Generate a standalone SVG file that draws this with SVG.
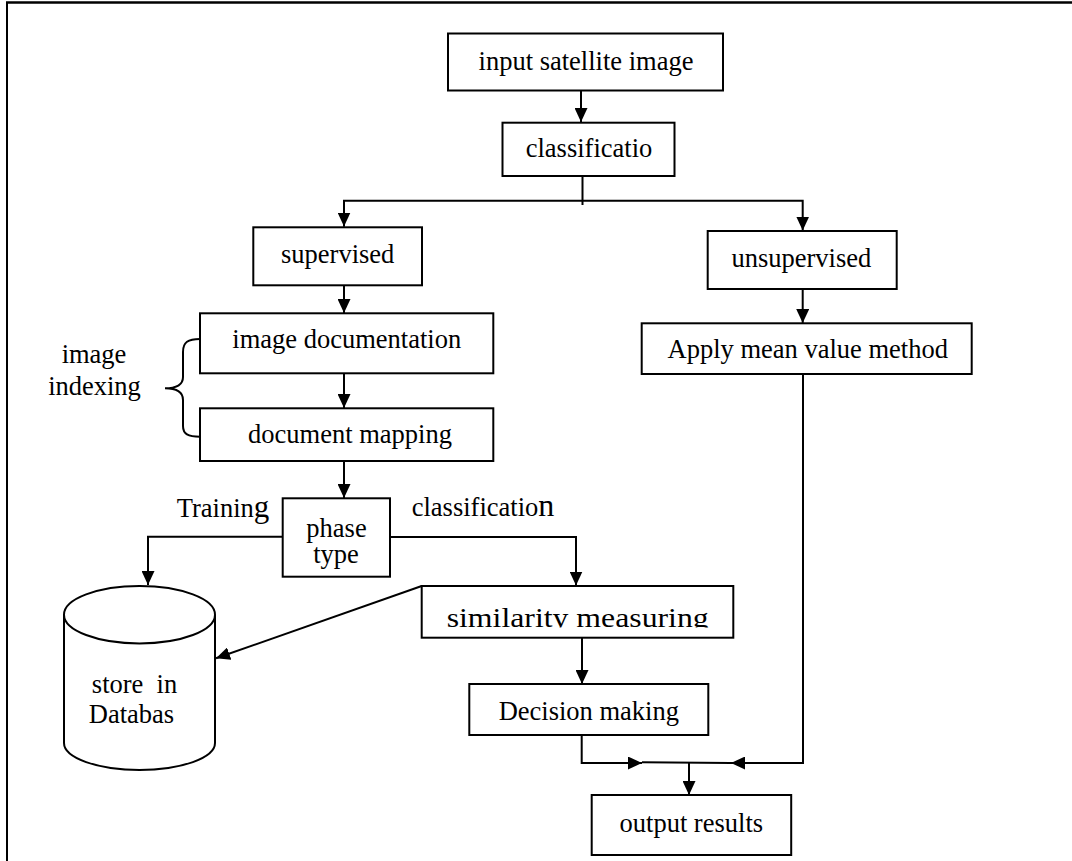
<svg xmlns="http://www.w3.org/2000/svg" width="1072" height="861" viewBox="0 0 1072 861">
<style>
.box{fill:#fff;stroke:#000;stroke-width:2}
.ln{fill:none;stroke:#000;stroke-width:2}
.t{font-family:"Liberation Serif","Times New Roman",serif;font-size:26.5px;fill:#000}
.c{text-anchor:middle}
</style>
<defs>
<marker id="ah" markerUnits="userSpaceOnUse" markerWidth="15" markerHeight="13" refX="14" refY="6.5" orient="auto">
<path d="M0,0 L14,6.5 L0,13 z" fill="#000"/>
</marker>
<clipPath id="simclip"><rect x="422" y="587" width="311" height="40.5"/></clipPath>
</defs>
<rect x="0" y="0" width="1072" height="861" fill="#fff"/>
<g id="frame">
<line x1="6" y1="2.5" x2="1072" y2="2.5" stroke="#000" stroke-width="2.5"/>
<line x1="7" y1="2" x2="7" y2="861" stroke="#000" stroke-width="2"/>
</g>
<g id="connectors">
<line class="ln" x1="581" y1="91" x2="581" y2="122" marker-end="url(#ah)"/>
<line class="ln" x1="582.5" y1="176" x2="582.5" y2="205"/>
<polyline class="ln" points="344,226.5 344,200.7 802.7,200.7 802.7,230.5" marker-end="url(#ah)"/>
<line class="ln" x1="344" y1="200.7" x2="344" y2="226.5" marker-end="url(#ah)"/>
<line class="ln" x1="344" y1="286" x2="344" y2="313" marker-end="url(#ah)"/>
<line class="ln" x1="802.7" y1="289" x2="802.7" y2="323" marker-end="url(#ah)"/>
<line class="ln" x1="344" y1="373.5" x2="344" y2="408" marker-end="url(#ah)"/>
<line class="ln" x1="344" y1="461" x2="344" y2="498" marker-end="url(#ah)"/>
<polyline class="ln" points="282.7,536.7 148,536.7 148,585" marker-end="url(#ah)"/>
<polyline class="ln" points="390,537 576,537 576,585.5" marker-end="url(#ah)"/>
<line class="ln" x1="421.7" y1="586" x2="216" y2="658.3" marker-end="url(#ah)"/>
<line class="ln" x1="582" y1="638" x2="582" y2="684" marker-end="url(#ah)"/>
<polyline class="ln" points="581.7,735 581.7,763 642,763" marker-end="url(#ah)"/>
<line class="ln" x1="642" y1="762.2" x2="731" y2="763"/>
<polyline class="ln" points="803,374 803,763 731,763" marker-end="url(#ah)"/>
<line class="ln" x1="689" y1="763" x2="689" y2="795" marker-end="url(#ah)"/>
</g>
<g id="input">
<rect class="box" x="448" y="33.5" width="275" height="57"/>
<text class="t c" x="586" y="70">input satellite image</text>
</g>
<g id="classificatio">
<rect class="box" x="502.5" y="122.7" width="172" height="53.3"/>
<text class="t c" x="589" y="156.7">classificatio</text>
</g>
<g id="supervised">
<rect class="box" x="253.3" y="227.3" width="168.7" height="58"/>
<text class="t c" x="337.7" y="263">supervised</text>
</g>
<g id="unsupervised">
<rect class="box" x="707.7" y="231" width="189" height="58"/>
<text class="t c" x="801.3" y="267">unsupervised</text>
</g>
<g id="imagedoc">
<rect class="box" x="200" y="313.3" width="293.3" height="60"/>
<text class="t c" x="346.8" y="348">image documentation</text>
</g>
<g id="meanvalue">
<rect class="box" x="641.7" y="323.3" width="330" height="50.7"/>
<text class="t c" x="807.8" y="358">Apply mean value method</text>
</g>
<g id="indexing">
<path class="ln" d="M200,339 C188,339 183,342 183,352 L183,377 C183,385 176,388.3 165,388.3 C176,388.3 183,392 183,400 L183,426 C183,434 188,436.7 200,436.7"/>
<text class="t c" x="94" y="363">image</text>
<text class="t c" x="94.5" y="395">indexing</text>
</g>
<g id="docmap">
<rect class="box" x="200" y="408.3" width="293.3" height="52.7"/>
<text class="t c" x="350" y="443">document mapping</text>
</g>
<g id="phase">
<rect class="box" x="282.7" y="498.3" width="107.3" height="78.4"/>
<text class="t c" x="336.5" y="536.7">phase</text>
<text class="t c" x="336" y="563.3">type</text>
<text class="t" x="176.7" y="516.7">Trainin<tspan font-size="31">g</tspan></text>
<text class="t" x="411.7" y="516">classificatio<tspan font-size="32">n</tspan></text>
</g>
<g id="database">
<path class="box" d="M64,614.7 L64,743 A75.5,27 0 0 0 215,743 L215,614.7"/>
<ellipse class="box" cx="139.5" cy="614.7" rx="75.5" ry="28.7"/>
<text class="t c" x="134.5" y="693.3" xml:space="preserve">store  in</text>
<text class="t c" x="131.5" y="723.3">Databas</text>
</g>
<g id="similarity">
<rect class="box" x="421.7" y="586" width="311.6" height="51.7"/>
<text class="t" x="446.7" y="626.7" font-size="33" textLength="262" lengthAdjust="spacingAndGlyphs" clip-path="url(#simclip)">similarity measuring</text>
</g>
<g id="decision">
<rect class="box" x="469.3" y="684" width="239" height="51"/>
<text class="t c" x="588.8" y="720">Decision making</text>
</g>
<g id="output">
<rect class="box" x="591.7" y="795" width="199.5" height="60"/>
<text class="t c" x="691.3" y="831.7">output results</text>
</g>
</svg>
